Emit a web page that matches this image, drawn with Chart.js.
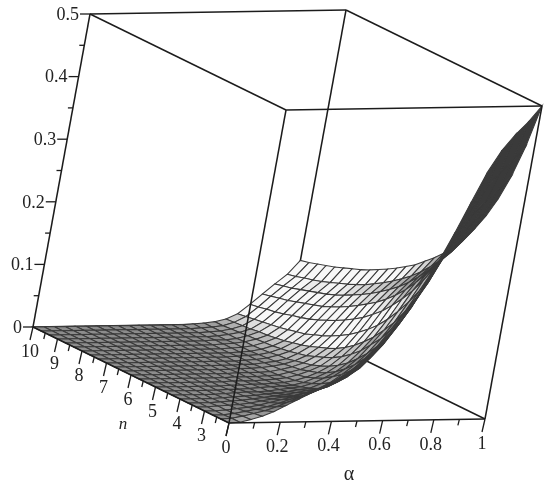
<!DOCTYPE html>
<html>
<head>
<meta charset="utf-8">
<title>Surface plot</title>
<script src="https://cdn.jsdelivr.net/npm/chart.js@4/dist/chart.umd.min.js"></script>
<style>
    html, body { margin: 0; padding: 0; background: #fff; }
    #wrap { width: 550px; height: 489px; }
    #surface-chart { filter: blur(0.55px); }
</style>
</head>
<body>
<div id="wrap"><canvas id="surface-chart" width="550" height="489"></canvas></div>
<script>
// Surface grid
var alphaGrid = [0, 0.0417, 0.0833, 0.125, 0.1667, 0.2083, 0.25, 0.2917, 0.3333, 0.375, 0.4167, 0.4583, 0.5,
    0.5417, 0.5833, 0.625, 0.6667, 0.7083, 0.75, 0.7917, 0.8333, 0.875, 0.9167, 0.9583, 1];
var nGrid = [2, 2.333, 2.667, 3, 3.333, 3.667, 4, 4.333, 4.667, 5, 5.333, 5.667, 6,
    6.333, 6.667, 7, 7.333, 7.667, 8, 8.333, 8.667, 9, 9.333, 9.667, 10];
// one row per nGrid value, one column per alphaGrid value
var zRows = [
    [0,.001,.005,.010,.017,.026,.035,.044,.053,.063,.074,.087,.102,.122,.148,.178,.214,.256,.300,.348,.395,.430,.455,.475,.5],
    [0,.001,.004,.008,.012,.018,.025,.032,.039,.047,.056,.066,.078,.094,.116,.144,.174,.212,.248,.290,.333,.364,.387,.406,.429],
    [0,0,.002,.005,.008,.012,.017,.023,.028,.034,.041,.049,.058,.071,.091,.115,.142,.174,.207,.246,.285,.315,.336,.354,.375],
    [0,0,.001,.003,.005,.008,.012,.016,.020,.025,.030,.036,.043,.055,.073,.093,.117,.146,.176,.211,.248,.276,.296,.313,.333],
    [0,0,.001,.002,.003,.005,.008,.011,.014,.016,.020,.024,.029,.039,.055,.073,.093,.120,.148,.181,.216,.243,.263,.279,.3],
    [0,0,0,.001,.002,.003,.005,.007,.009,.011,.014,.017,.020,.029,.042,.057,.075,.098,.124,.156,.190,.216,.236,.252,.273],
    [0,0,0,0,.001,.002,.003,.004,.006,.007,.009,.012,.014,.021,.032,.044,.060,.082,.105,.135,.167,.193,.213,.229,.25],
    [0,0,0,0,0,.001,.002,.003,.003,.004,.006,.008,.010,.015,.023,.033,.047,.066,.088,.116,.148,.174,.193,.210,.231],
    [0,0,0,0,0,0,.001,.001,.002,.003,.004,.005,.006,.010,.017,.025,.037,.054,.074,.100,.131,.156,.176,.193,.214],
    [0,0,0,0,0,0,0,.001,.001,.002,.002,.003,.004,.007,.012,.019,.029,.044,.062,.087,.116,.141,.161,.178,.2],
    [0,0,0,0,0,0,0,0,.001,.001,.001,.002,.003,.005,.009,.015,.023,.036,.052,.076,.104,.128,.148,.165,.188],
    [0,0,0,0,0,0,0,0,0,.001,.001,.001,.002,.003,.007,.011,.018,.030,.044,.066,.093,.117,.137,.154,.176],
    [0,0,0,0,0,0,0,0,0,0,.001,.001,.001,.002,.005,.009,.015,.025,.038,.058,.084,.108,.127,.144,.167],
    [0,0,0,0,0,0,0,0,0,0,0,.001,.001,.002,.004,.007,.012,.020,.033,.051,.076,.099,.118,.135,.158],
    [0,0,0,0,0,0,0,0,0,0,0,0,.001,.001,.003,.005,.009,.017,.028,.045,.069,.091,.110,.127,.15],
    [0,0,0,0,0,0,0,0,0,0,0,0,0,.001,.002,.004,.008,.014,.024,.040,.063,.084,.103,.119,.143],
    [0,0,0,0,0,0,0,0,0,0,0,0,0,.001,.002,.003,.006,.012,.021,.035,.057,.078,.096,.113,.136],
    [0,0,0,0,0,0,0,0,0,0,0,0,0,0,.001,.002,.005,.010,.018,.032,.052,.072,.090,.107,.130],
    [0,0,0,0,0,0,0,0,0,0,0,0,0,0,.001,.002,.004,.009,.016,.029,.048,.068,.085,.102,.125],
    [0,0,0,0,0,0,0,0,0,0,0,0,0,0,.001,.002,.004,.008,.014,.026,.045,.064,.081,.097,.12],
    [0,0,0,0,0,0,0,0,0,0,0,0,0,0,.001,.001,.003,.007,.013,.024,.041,.060,.077,.092,.115],
    [0,0,0,0,0,0,0,0,0,0,0,0,0,0,0,.001,.003,.006,.011,.022,.038,.056,.073,.088,.111],
    [0,0,0,0,0,0,0,0,0,0,0,0,0,0,0,.001,.002,.005,.010,.020,.036,.053,.069,.085,.107],
    [0,0,0,0,0,0,0,0,0,0,0,0,0,0,0,.001,.002,.004,.009,.018,.033,.050,.066,.081,.103],
    [0,0,0,0,0,0,0,0,0,0,0,0,0,0,0,.001,.002,.004,.008,.016,.031,.047,.063,.078,.1]
];

// Axis ticks and labels
var alphaTicks = [0, 0.1, 0.2, 0.3, 0.4, 0.5, 0.6, 0.7, 0.8, 0.9, 1];
var alphaLabels = ['0', '', '0.2', '', '0.4', '', '0.6', '', '0.8', '', '1'];
var nTicks = [2, 2.5, 3, 3.5, 4, 4.5, 5, 5.5, 6, 6.5, 7, 7.5, 8, 8.5, 9, 9.5, 10];
var nLabels = ['', '', '3', '', '4', '', '5', '', '6', '', '7', '', '8', '', '9', '', '10'];
var zTicks = [0, 0.05, 0.1, 0.15, 0.2, 0.25, 0.3, 0.35, 0.4, 0.45, 0.5];
var zLabels = ['0', '', '0.1', '', '0.2', '', '0.3', '', '0.4', '', '0.5'];

var nMin = 2, nMax = 10, zMax = 0.5;

// Fixed view of the box: (alpha, n, z) to page position
function project(a, n, z) {
    var t = (n - nMin) / (nMax - nMin);
    var h = z / zMax;
    return {
        x: 229 + 256 * a - 196 * t + 57 * h,
        y: 423 - 4 * a - 96 * t - 313 * h
    };
}

function lineSet(points, color, width) {
    return {
        data: points,
        showLine: true,
        fill: false,
        borderColor: color,
        borderWidth: width,
        pointRadius: 0,
        tension: 0
    };
}

function edge(a1, n1, z1, a2, n2, z2) {
    return lineSet([project(a1, n1, z1), project(a2, n2, z2)], '#1c1c1c', 1.5);
}

function tick(p, dx, dy) {
    return lineSet([p, { x: p.x + dx, y: p.y + dy }], '#1c1c1c', 1.3);
}

// Negative on the top side of the surface, positive where it folds over and shows its underside
function signedArea(p) {
    return ((p[2].x - p[0].x) * (p[3].y - p[1].y) - (p[3].x - p[1].x) * (p[2].y - p[0].y)) / 2;
}

function cellShade(p) {
    var area = signedArea(p);
    if (area > 0) return 58;
    return Math.round(Math.max(70, Math.min(248, 140 + (-area - 44) * 1.7)));
}

var layers = [];

// Edges behind the surface
layers.push(edge(1, nMax, 0, 1, nMax, zMax));
layers.push(edge(1, nMax, 0, 1, nMin, 0));
layers.push(edge(1, nMax, 0, 0, nMax, 0));

// Surface cells, far corner first
for (var r = nGrid.length - 2; r >= 0; r--) {
    for (var c = alphaGrid.length - 2; c >= 0; c--) {
        var cell = [
            project(alphaGrid[c], nGrid[r], zRows[r][c]),
            project(alphaGrid[c + 1], nGrid[r], zRows[r][c + 1]),
            project(alphaGrid[c + 1], nGrid[r + 1], zRows[r + 1][c + 1]),
            project(alphaGrid[c], nGrid[r + 1], zRows[r + 1][c])
        ];
        var shade = cellShade(cell);
        layers.push({
            data: cell.concat([cell[0]]),
            showLine: true,
            fill: 'shape',
            backgroundColor: 'rgb(' + shade + ',' + shade + ',' + shade + ')',
            borderColor: '#3a3a3a',
            borderWidth: 1.05,
            pointRadius: 0,
            tension: 0
        });
    }
}

// Edges in front
layers.push(edge(0, nMin, 0, 1, nMin, 0));
layers.push(edge(0, nMin, 0, 0, nMax, 0));
layers.push(edge(0, nMax, 0, 0, nMax, zMax));
layers.push(edge(0, nMin, 0, 0, nMin, zMax));
layers.push(edge(1, nMin, 0, 1, nMin, zMax));
layers.push(edge(0, nMax, zMax, 1, nMax, zMax));
layers.push(edge(0, nMax, zMax, 0, nMin, zMax));
layers.push(edge(0, nMin, zMax, 1, nMin, zMax));
layers.push(edge(1, nMax, zMax, 1, nMin, zMax));

alphaTicks.forEach(function (v, i) {
    var major = alphaLabels[i] !== '';
    layers.push(tick(project(v, nMin, 0), major ? -3 : -1.5, major ? 13 : 6));
});
nTicks.forEach(function (v, i) {
    var major = nLabels[i] !== '' || v === nMin;
    layers.push(tick(project(0, v, 0), major ? -3 : -1.5, major ? 13 : 6));
});
zTicks.forEach(function (v, i) {
    layers.push(tick(project(0, nMax, v), zLabels[i] !== '' ? -10 : -5, 0));
});

// Text goes on after the marks
var axisText = {
    id: 'axisText',
    afterDraw: function (chart) {
        var ctx = chart.ctx, sx = chart.scales.x, sy = chart.scales.y;
        function put(text, p, dx, dy) {
            ctx.fillText(text, sx.getPixelForValue(p.x + dx), sy.getPixelForValue(p.y + dy));
        }
        ctx.save();
        ctx.fillStyle = '#222';
        ctx.textBaseline = 'middle';
        ctx.font = '18px "Liberation Serif"';
        ctx.textAlign = 'center';
        alphaTicks.forEach(function (v, i) { put(alphaLabels[i], project(v, nMin, 0), -3, 25); });
        nTicks.forEach(function (v, i) { put(nLabels[i], project(0, v, 0), -3, 25); });
        ctx.textAlign = 'right';
        zTicks.forEach(function (v, i) { put(zLabels[i], project(0, nMax, v), -11, 1); });
        ctx.textAlign = 'center';
        ctx.font = '20px "Liberation Serif"';
        put('\u03b1', project(0.5, nMin, 0), -8, 54);
        ctx.font = 'italic 17px "Liberation Serif"';
        put('n', project(0, 6, 0), -8, 50);
        ctx.restore();
    }
};

new Chart(document.getElementById('surface-chart'), {
    type: 'scatter',
    // Chart.js paints the first dataset last
    data: { datasets: layers.reverse() },
    options: {
        responsive: false,
        animation: false,
        layout: { padding: 0 },
        plugins: { legend: { display: false }, tooltip: { enabled: false } },
        scales: {
            x: { type: 'linear', min: 0, max: 550, display: false },
            y: { type: 'linear', min: 0, max: 489, reverse: true, display: false }
        }
    },
    plugins: [axisText]
});
</script>
</body>
</html>
